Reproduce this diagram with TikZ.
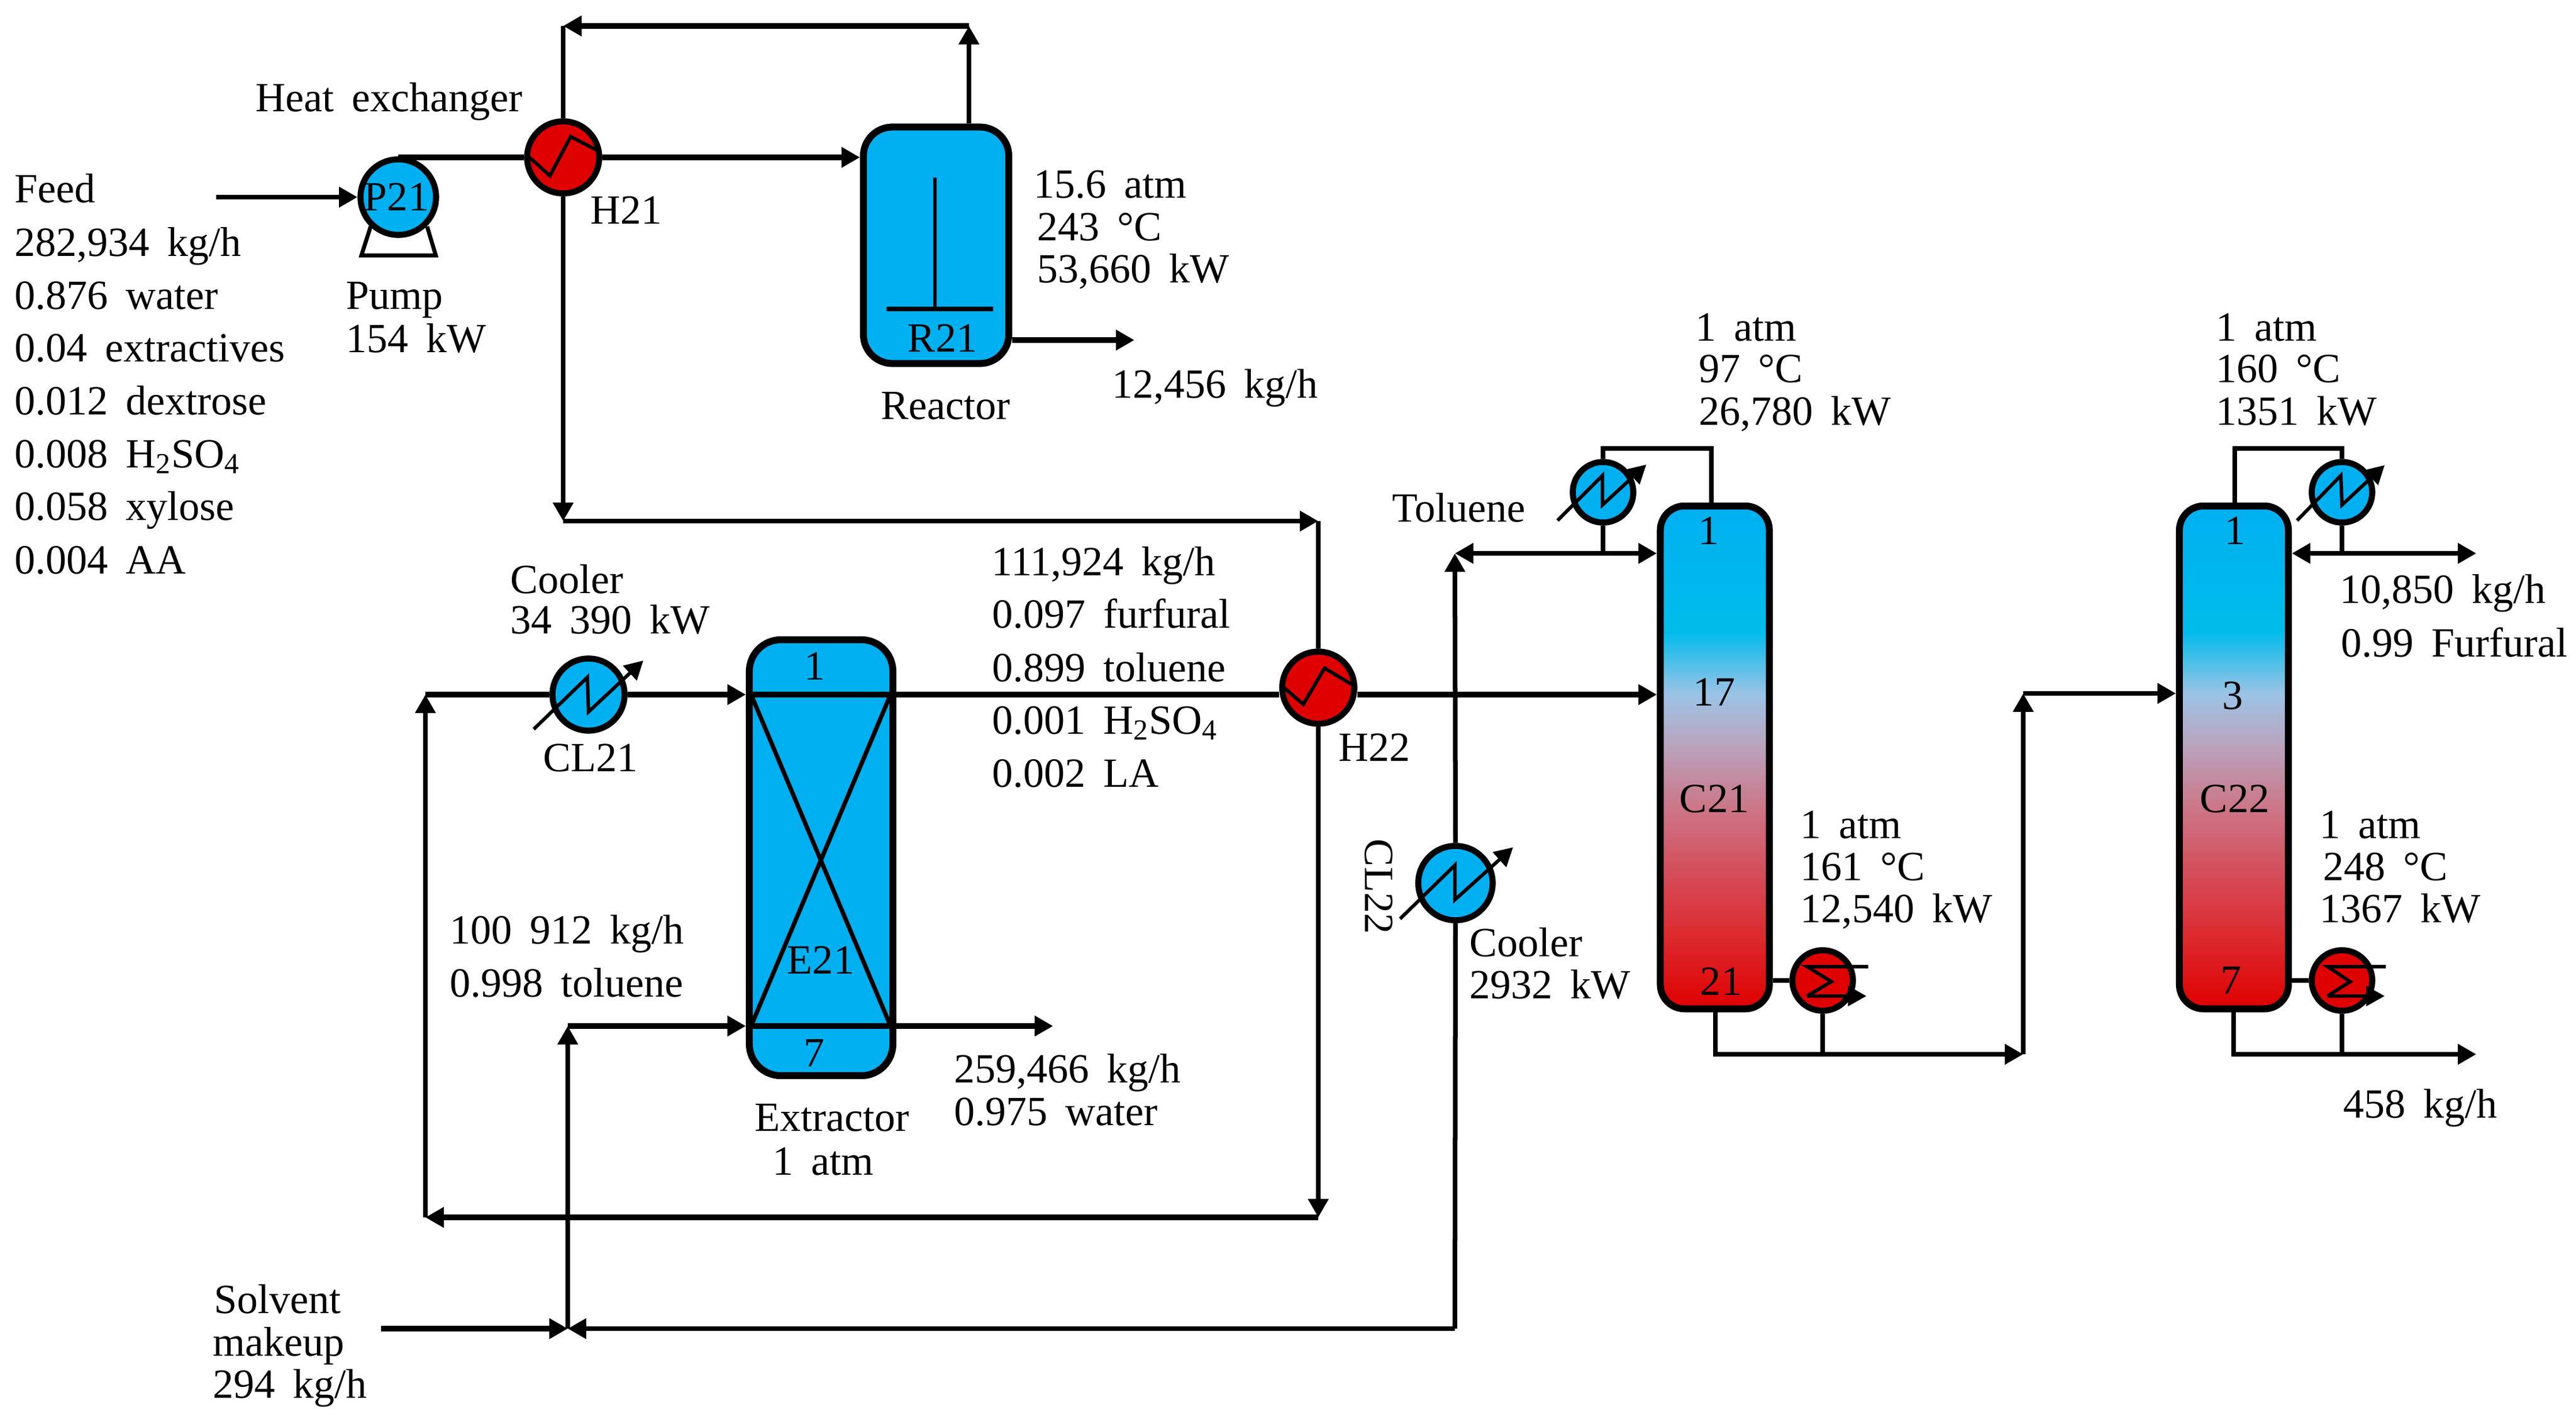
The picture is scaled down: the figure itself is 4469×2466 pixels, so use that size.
\documentclass[tikz,border=0pt]{standalone}
\usepackage{fontspec}
\setmainfont{Liberation Serif}[WordSpace=1.7]
\usetikzlibrary{arrows.meta,calc}
\definecolor{pblue}{HTML}{00B0F0}
\definecolor{pred}{HTML}{DF0000}
\definecolor{gA}{HTML}{00BCEB}
\definecolor{gB}{HTML}{9DC3E6}
\definecolor{gC}{HTML}{B8A5C0}
\definecolor{gD}{HTML}{CC7688}
\definecolor{gE}{HTML}{D4505E}
\definecolor{gF}{HTML}{DC2B30}
\pgfdeclareverticalshading{colgrad}{100bp}{color(0bp)=(pred); color(25bp)=(pred); color(32.5bp)=(gF); color(39bp)=(gE); color(45bp)=(gD); color(51.5bp)=(gC); color(56.25bp)=(gB); color(62.5bp)=(gA); color(75bp)=(pblue); color(100bp)=(pblue)}
\tikzset{
  txt/.style={font=\fontsize{20.5}{24}\selectfont,text=black},
  lbl/.style={txt,anchor=base west,inner sep=0pt},
  tag/.style={txt,anchor=center,inner sep=0pt},
  flow/.style={line width=0.08cm,draw=black,line join=miter},
  heavy/.style={line width=0.10cm,draw=black},
  tipped/.style={-{Triangle[length=0.32cm,width=0.34cm]}},
  unit/.style={circle,draw=black,line width=0.105cm,inner sep=0pt,minimum size=#1},
  vessel/.style={rectangle,draw=black,line width=0.12cm,inner sep=0pt,fill=pblue},
  tower/.style={rectangle,draw=black,line width=0.12cm,inner sep=0pt,rounded corners=0.42cm,minimum width=1.89cm,minimum height=8.72cm,shading=colgrad},
  fine/.style={line width=0.06cm,draw=black,line join=miter},
}
\begin{document}
\begin{tikzpicture}[x=0.01cm,y=-0.01cm]
\useasboundingbox (0,0) rectangle (4469,2466);
% equipment
\node[unit=1.31cm,fill=pblue,txt] (P21) at (691,342) {};
\node[unit=1.25cm,fill=pred] (H21) at (977,273) {};
\node[vessel,rounded corners=0.5cm,minimum width=2.52cm,minimum height=4.10cm] (R21) at (1624,425.5) {};
\node[vessel,rounded corners=0.55cm,minimum width=2.49cm,minimum height=7.56cm] (E21) at (1424.5,1488) {};
\node[unit=1.25cm,fill=pblue] (CL21) at (1021,1205) {};
\node[unit=1.25cm,fill=pred] (H22) at (2287,1193) {};
\node[unit=1.29cm,fill=pblue] (CL22) at (2525,1532) {};
\node[tower] (C21) at (2975,1314) {};
\node[tower] (C22) at (3875.5,1314) {};
\node[unit=1.05cm,fill=pblue] (CD1) at (2781,854) {};
\node[unit=1.05cm,fill=pblue] (CD2) at (4063,854) {};
\node[unit=1.05cm,fill=pred] (RB1) at (3162,1701) {};
\node[unit=1.05cm,fill=pred] (RB2) at (4063,1701) {};
% junctions
\coordinate (feedin) at (375,342);
\coordinate (topR) at (1681,45);
\coordinate (topL) at (977,45);
\coordinate (midL) at (977,904);
\coordinate (midR) at (2287,904);
\coordinate (recR) at (2287,2112);
\coordinate (recL) at (738,2112);
\coordinate (cornerCL) at (738,1205);
\coordinate (solvIn) at (661,2305);
\coordinate (solvJ) at (985,2305);
\coordinate (solvUp) at (985,1780);
\coordinate (extOut) at (1827,1780);
\coordinate (tolBot) at (2524,2305);
\coordinate (tolTop) at (2524,960);
\coordinate (tolJ) at (2781,960);
\coordinate (c1top) at (2969,778);
\coordinate (cd1top) at (2781,778);
\coordinate (c1bot) at (2976,1829);
\coordinate (rb1j) at (3162,1829);
\coordinate (xfer) at (3510,1829);
\coordinate (xferUp) at (3510,1203);
\coordinate (c2top) at (3877,778);
\coordinate (cd2top) at (4063,778);
\coordinate (prodJ) at (4063,960);
\coordinate (prodEnd) at (4296,960);
\coordinate (c2bot) at (3875,1829);
\coordinate (rb2j) at (4063,1829);
\coordinate (botEnd) at (4296,1829);
\coordinate (rOut) at (1968,590);
% pump base
\draw[line width=0.07cm,line join=miter] (643,393) -- (627,443) -- (756,443) -- (741,393);
% connectors
\draw[flow,tipped] (feedin) -- (P21.west);
\draw[heavy] (P21.north |- H21.west) -- (H21.west);
\draw[heavy,tipped] (H21.east) -- (H21.east -| R21.west);
\draw[flow,tipped] (R21.north -| topR) -- (topR);
\draw[heavy,tipped] (topR) -- (topL);
\draw[flow] (topL) -- (H21.north);
\draw[flow,tipped] (H21.south) -- (midL);
\draw[flow,tipped] (midL) -- (midR);
\draw[flow] (midR) -- (H22.north);
\draw[flow,tipped] (H22.south) -- (recR);
\draw[heavy,tipped] (recR) -- (recL);
\draw[flow,tipped] (recL) -- (cornerCL);
\draw[heavy] (cornerCL) -- (CL21.west);
\draw[heavy,tipped] (CL21.east) -- (CL21.east -| E21.west);
\draw[heavy] (E21.west |- CL21) -- (E21.east |- CL21) -- (H22.west |- CL21);
\draw[heavy,tipped] (H22.east |- CL21) -- (C21.west |- CL21);
\draw[heavy,tipped] (R21.east |- rOut) -- (rOut);
\draw[heavy,tipped] (solvIn) -- (solvJ);
\draw[flow,tipped] (tolBot) -- (solvJ);
\draw[flow,tipped] (solvJ) -- (solvUp);
\draw[heavy,tipped] (solvUp) -- (solvUp -| E21.west);
\draw[heavy] (E21.west |- solvUp) -- (E21.east |- solvUp);
\draw[heavy,tipped] (E21.east |- solvUp) -- (extOut);
\draw[line width=0.075cm] (1303,1205) -- (1545,1780);
\draw[line width=0.075cm] (1545,1205) -- (1303,1780);
\draw[flow] (tolBot) -- (CL22.south);
\draw[flow,tipped] (CL22.north) -- (tolTop);
\draw[flow,tipped] (tolJ) -- (tolTop);
\draw[flow,tipped] (tolJ) -- (tolJ -| C21.west);
\draw[flow] (CD1.south) -- (tolJ);
\draw[flow] (C21.north -| c1top) -- (c1top) -- (cd1top) -- (CD1.north);
\draw[flow] (C21.south -| c1bot) -- (c1bot) -- (rb1j);
\draw[flow,tipped] (rb1j) -- (xfer);
\draw[flow] (RB1.south) -- (rb1j);
\draw[flow] (C21.east |- RB1) -- (RB1.west);
\draw[flow,tipped] (xfer) -- (xferUp);
\draw[flow,tipped] (xferUp) -- (xferUp -| C22.west);
\draw[flow] (C22.north -| c2top) -- (c2top) -- (cd2top) -- (CD2.north);
\draw[flow] (CD2.south) -- (prodJ);
\draw[flow,tipped] (prodJ) -- (prodJ -| C22.east);
\draw[flow,tipped] (prodJ) -- (prodEnd);
\draw[flow] (C22.south -| c2bot) -- (c2bot) -- (rb2j);
\draw[flow,tipped] (rb2j) -- (botEnd);
\draw[flow] (RB2.south) -- (rb2j);
\draw[flow] (C22.east |- RB2) -- (RB2.west);
% internals
\draw[line width=0.055cm] (1622,308) -- (1622,536);
\draw[line width=0.08cm] (1538,536) -- (1723,536);
\draw[fine] (913,268) -- (954,305) -- (990,237) -- (1040,263);
\draw[fine] (2223,1189) -- (2261,1222) -- (2298,1159) -- (2344,1187);
\draw[fine,tipped] (926,1265) -- (1019,1175) -- (1021,1235) -- (1116,1146);
\draw[fine,tipped] (2429,1594) -- (2524,1501) -- (2524,1561) -- (2625,1470);
\draw[fine,tipped] (2702,903) -- (2780,825) -- (2780,876) -- (2856,806);
\draw[fine,tipped] (3985,903) -- (4061,825) -- (4063,876) -- (4137,807);
\draw[fine] (3241,1677) -- (3135,1677) -- (3177,1703) -- (3135,1728);
\draw[fine,tipped] (3135,1728) -- (3238,1728);
\draw[fine] (4139,1677) -- (4038,1677) -- (4077,1703) -- (4038,1728);
\draw[fine,tipped] (4038,1728) -- (4137,1728);
% unit tags
\node[tag] (tP21) at (688,342) {P21};
\node[tag] (tR21) at (1635,587) {R21};
\node[tag] (tE1) at (1414,1156) {1};
\node[tag] (tE7) at (1413,1827) {7};
\node[tag] (tE21) at (1424,1666) {E21};
\node[tag] (tC1a) at (2964,921) {1};
\node[tag] (tC17) at (2974,1201) {17};
\node[tag] (tC21) at (2974,1386) {C21};
\node[tag] (tC21b) at (2986,1703) {21};
\node[tag] (tD1) at (3877,921) {1};
\node[tag] (tD3) at (3873,1207) {3};
\node[tag] (tC22) at (3877,1386) {C22};
\node[tag] (tD7) at (3870,1701) {7};
\node[tag,rotate=-90] (tCL22) at (2392,1538) {CL22};
% feed labels
\node[lbl] (f1) at (25,351) {Feed};
\node[lbl] (f2) at (25,444) {282,934 kg/h};
\node[lbl] (f3) at (25,536) {0.876 water};
\node[lbl] (f4) at (25,627) {0.04 extractives};
\node[lbl] (f5) at (25,719) {0.012 dextrose};
\node[lbl] (f6) at (25,811) {0.008 H\textsubscript{2}SO\textsubscript{4}};
\node[lbl] (f7) at (25,902) {0.058 xylose};
\node[lbl] (f8) at (25,995) {0.004 AA};
% upper labels
\node[lbl] (a1) at (443,193) {Heat exchanger};
\node[lbl] (a2) at (1024,388) {H21};
\node[lbl] (a3) at (600,536) {Pump};
\node[lbl] (a4) at (600,611) {154 kW};
\node[lbl] (a5) at (1528,727) {Reactor};
\node[lbl] (a6) at (1793,343) {15.6 atm};
\node[lbl] (a7) at (1799,417) {243 °C};
\node[lbl] (a8) at (1799,490) {53,660 kW};
\node[lbl] (a9) at (1929,690) {12,456 kg/h};
% extractor labels
\node[lbl] (b1) at (885,1029) {Cooler};
\node[lbl] (b2) at (885,1099) {34 390 kW};
\node[lbl] (b3) at (942,1338) {CL21};
\node[lbl] (b4) at (780,1637) {100 912 kg/h};
\node[lbl] (b5) at (780,1729) {0.998 toluene};
\node[lbl] (b6) at (1309,1962) {Extractor};
\node[lbl] (b7) at (1340,2038) {1 atm};
\node[lbl] (b8) at (1655,1878) {259,466 kg/h};
\node[lbl] (b9) at (1655,1952) {0.975 water};
\node[lbl] (c1) at (371,2278) {Solvent};
\node[lbl] (c2) at (369,2352) {makeup};
\node[lbl] (c3) at (369,2425) {294 kg/h};
% middle labels
\node[lbl] (d1) at (1720,998) {111,924 kg/h};
\node[lbl] (d2) at (1721,1089) {0.097 furfural};
\node[lbl] (d3) at (1721,1182) {0.899 toluene};
\node[lbl] (d4) at (1721,1273) {0.001 H\textsubscript{2}SO\textsubscript{4}};
\node[lbl] (d5) at (1721,1365) {0.002 LA};
\node[lbl] (d6) at (2322,1320) {H22};
\node[lbl] (d7) at (2415,905) {Toluene};
\node[lbl] (d8) at (2549,1659) {Cooler};
\node[lbl] (d9) at (2549,1732) {2932 kW};
% column labels
\node[lbl] (e1) at (2941,591) {1 atm};
\node[lbl] (e2) at (2947,663) {97 °C};
\node[lbl] (e3) at (2947,737) {26,780 kW};
\node[lbl] (e4) at (3123,1454) {1 atm};
\node[lbl] (e5) at (3123,1527) {161 °C};
\node[lbl] (e6) at (3123,1600) {12,540 kW};
\node[lbl] (g1) at (3844,591) {1 atm};
\node[lbl] (g2) at (3844,663) {160 °C};
\node[lbl] (g3) at (3844,737) {1351 kW};
\node[lbl] (g4) at (4059,1046) {10,850 kg/h};
\node[lbl] (g5) at (4061,1139) {0.99 Furfural};
\node[lbl] (g6) at (4024,1454) {1 atm};
\node[lbl] (g7) at (4030,1527) {248 °C};
\node[lbl] (g8) at (4024,1600) {1367 kW};
\node[lbl] (g9) at (4065,1939) {458 kg/h};
\end{tikzpicture}
\end{document}
